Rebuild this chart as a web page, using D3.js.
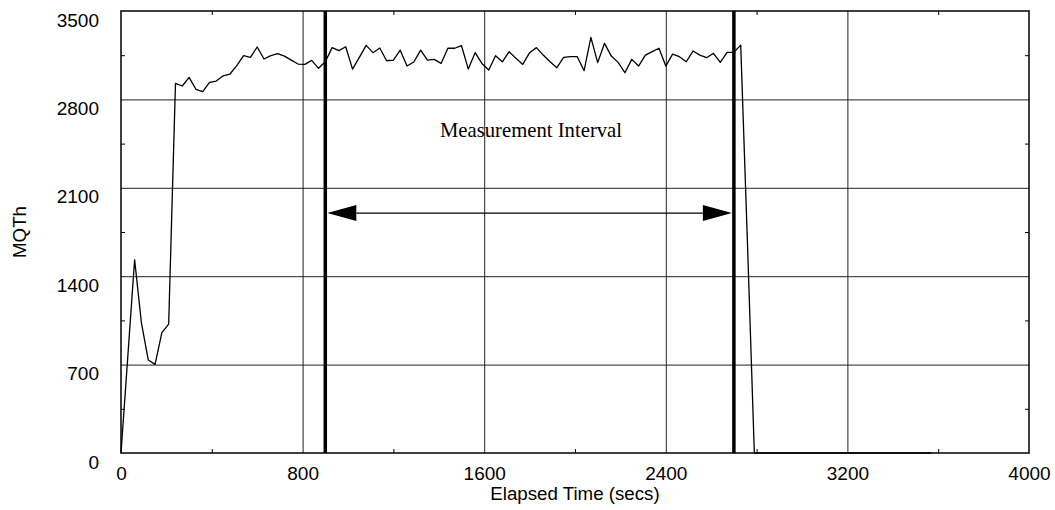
<!DOCTYPE html>
<html>
<head>
<meta charset="utf-8">
<script src="https://cdn.jsdelivr.net/npm/d3@7"></script>
<style>
  body { margin: 0; background: #fff; }
  svg { display: block; }
</style>
</head>
<body>
<div id="chart"></div>
<script>
// elapsed time (secs) of each sample
var elapsed = [
  0, 30, 60, 90, 120, 150, 180, 210, 240, 270, 300, 330, 360, 390, 420, 450,
  480, 510, 540, 570, 600, 630, 660, 690, 720, 750, 780, 810, 840, 870, 900,
  930, 960, 990, 1020, 1050, 1080, 1110, 1140, 1170, 1200, 1230, 1260, 1290,
  1320, 1350, 1380, 1410, 1440, 1470, 1500, 1530, 1560, 1590, 1620, 1650, 1680,
  1710, 1740, 1770, 1800, 1830, 1860, 1890, 1920, 1950, 1980, 2010, 2040, 2070,
  2100, 2130, 2160, 2190, 2220, 2250, 2280, 2310, 2340, 2370, 2400, 2430, 2460,
  2490, 2520, 2550, 2580, 2610, 2640, 2670, 2700, 2730, 2760, 2790, 2820, 2850,
  2880, 2910, 2940, 2970, 3000, 3030, 3060, 3090, 3120, 3150, 3180, 3210, 3240,
  3270, 3300, 3330, 3360, 3390, 3420, 3450, 3480, 3510, 3540, 3570
];
// MQTh read at each sample
var mqth = [
  0, 765, 1530, 1030, 737, 702, 953, 1021, 2927, 2906, 2974, 2880, 2861, 2935, 2945, 2987,
  3001, 3067, 3146, 3133, 3215, 3120, 3146, 3162, 3143, 3111, 3080, 3077, 3109, 3046, 3098,
  3210, 3186, 3217, 3040, 3133, 3228, 3170, 3207, 3106, 3111, 3190, 3064, 3096,
  3190, 3111, 3117, 3085, 3205, 3205, 3225, 3040, 3170, 3085, 3033, 3146, 3098,
  3178, 3125, 3077, 3170, 3210, 3151, 3098, 3051, 3133, 3138, 3138, 3027, 3291,
  3091, 3244, 3143, 3093, 3011, 3117, 3064, 3151, 3178, 3205, 3064, 3159, 3138,
  3098, 3183, 3151, 3130, 3165, 3093, 3173, 3173, 3230, 1650, 0, 0, 0,
  0, 0, 0, 0, 0, 0, 0, 0, 0, 0, 0, 0, 0,
  0, 0, 0, 0, 0, 0, 0, 0, 0, 0, 0, 0
];

var xTicks = [0, 800, 1600, 2400, 3200, 4000];
var xMinor = [400, 1200, 2000, 2800, 3600];
var yTicks = [0, 700, 1400, 2100, 2800, 3500];
var yMinor = [350, 1050, 1750, 2450, 3150];

var interval = [900, 2700];
var arrowLevel = 1900;
var intervalLabel = "Measurement Interval";

var W = 1055, H = 510;
var margin = { top: 11, right: 26, bottom: 57, left: 121 };
var w = W - margin.left - margin.right,
    h = H - margin.top - margin.bottom;

var xScale = d3.scaleLinear().domain([0, 4000]).range([0, w]);
var yScale = d3.scaleLinear().domain([0, 3500]).range([h, 0]);

var svg = d3.select("#chart").append("svg")
    .attr("width", W)
    .attr("height", H)
  .append("g")
    .attr("transform", "translate(" + margin.left + "," + margin.top + ")");

// grid lines
svg.append("g")
    .attr("class", "grid")
    .call(d3.axisLeft(yScale).tickValues(yTicks.slice(1, -1)).tickSize(-w).tickFormat(""))
    .call(function(g) { g.select(".domain").remove(); })
    .selectAll("line").attr("stroke", "#222").attr("stroke-width", 1);

svg.append("g")
    .attr("class", "grid")
    .attr("transform", "translate(0," + h + ")")
    .call(d3.axisBottom(xScale).tickValues(xTicks.slice(1, -1)).tickSize(-h).tickFormat(""))
    .call(function(g) { g.select(".domain").remove(); })
    .selectAll("line").attr("stroke", "#222").attr("stroke-width", 1);

// minor ticks pointing inward on all four sides
svg.append("g")
    .attr("transform", "translate(0," + h + ")")
    .call(d3.axisBottom(xScale).tickValues(xMinor).tickSize(-4).tickFormat(""))
    .call(function(g) { g.select(".domain").remove(); });
svg.append("g")
    .call(d3.axisTop(xScale).tickValues(xMinor).tickSize(-4).tickFormat(""))
    .call(function(g) { g.select(".domain").remove(); });
svg.append("g")
    .call(d3.axisLeft(yScale).tickValues(yMinor).tickSize(-4).tickFormat(""))
    .call(function(g) { g.select(".domain").remove(); });
svg.append("g")
    .attr("transform", "translate(" + w + ",0)")
    .call(d3.axisRight(yScale).tickValues(yMinor).tickSize(-4).tickFormat(""))
    .call(function(g) { g.select(".domain").remove(); });

// tick labels
svg.append("g")
    .attr("transform", "translate(0," + h + ")")
    .call(d3.axisBottom(xScale).tickValues(xTicks).tickSize(0).tickPadding(14).tickFormat(d3.format("d")))
    .call(function(g) { g.select(".domain").remove(); })
    .attr("font-family", "Liberation Sans, Arial, sans-serif")
    .attr("font-size", "19px");

svg.append("g")
    .call(d3.axisLeft(yScale).tickValues(yTicks).tickSize(0).tickPadding(22).tickFormat(d3.format("d")))
    .call(function(g) { g.select(".domain").remove(); })
    .attr("font-family", "Liberation Sans, Arial, sans-serif")
    .attr("font-size", "19px")
    .selectAll("text").attr("y", 9);

// the data line
var line = d3.line()
    .x(function(d, i) { return xScale(elapsed[i]); })
    .y(function(d) { return yScale(d); });

svg.append("path")
    .datum(mqth)
    .attr("fill", "none")
    .attr("stroke", "#000")
    .attr("stroke-width", 1.3)
    .attr("stroke-linejoin", "round")
    .attr("d", line);

// measurement interval bars
svg.selectAll(".ivl")
    .data(interval)
    .enter()
    .append("line")
    .attr("class", "ivl")
    .attr("x1", function(d) { return xScale(d); })
    .attr("x2", function(d) { return xScale(d); })
    .attr("y1", 0)
    .attr("y2", h)
    .attr("stroke", "#000")
    .attr("stroke-width", 3.5);

// double headed arrow
var ax0 = xScale(interval[0]) + 2, ax1 = xScale(interval[1]) - 2, ay = yScale(arrowLevel);
var headLen = 29, headHalf = 8;
svg.append("line")
    .attr("x1", ax0 + headLen).attr("x2", ax1 - headLen)
    .attr("y1", ay).attr("y2", ay)
    .attr("stroke", "#000")
    .attr("stroke-width", 1.3);
svg.append("path")
    .attr("d", "M" + ax0 + "," + ay + "L" + (ax0 + headLen) + "," + (ay - headHalf) + "L" + (ax0 + headLen) + "," + (ay + headHalf) + "Z")
    .attr("fill", "#000");
svg.append("path")
    .attr("d", "M" + ax1 + "," + ay + "L" + (ax1 - headLen) + "," + (ay - headHalf) + "L" + (ax1 - headLen) + "," + (ay + headHalf) + "Z")
    .attr("fill", "#000");

svg.append("text")
    .attr("x", 531 - margin.left)
    .attr("y", 126)
    .style("text-anchor", "middle")
    .attr("font-family", "Liberation Serif, Times New Roman, serif")
    .attr("font-size", "20.7px")
    .attr("fill", "#000")
    .text(intervalLabel);

// frame
svg.append("rect")
    .attr("x", 0).attr("y", 0)
    .attr("width", w).attr("height", h)
    .attr("fill", "none")
    .attr("stroke", "#000")
    .attr("stroke-width", 1.5);

// axis titles
svg.append("text")
    .attr("x", w / 2)
    .attr("y", h + 47)
    .style("text-anchor", "middle")
    .attr("font-family", "Liberation Sans, Arial, sans-serif")
    .attr("font-size", "18.7px")
    .text("Elapsed Time (secs)");

svg.append("text")
    .attr("transform", "rotate(-90)")
    .attr("x", -h / 2)
    .attr("y", -margin.left + 26)
    .style("text-anchor", "middle")
    .attr("font-family", "Liberation Sans, Arial, sans-serif")
    .attr("font-size", "18.7px")
    .text("MQTh");
</script>
</body>
</html>
